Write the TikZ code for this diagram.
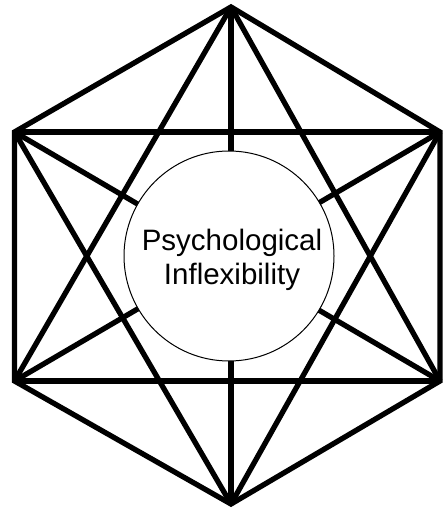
\documentclass[tikz,border=0pt]{standalone}
\usepackage{fontspec}
\setmainfont{Liberation Sans}
\begin{document}
\begin{tikzpicture}[x=1pt,y=-1pt,
  edge/.style={line width=5.3pt,line cap=butt,line join=miter},
  core/.style={circle,draw,line width=1pt,fill=white,minimum size=210pt,inner sep=0pt},
  coretext/.style={font=\fontsize{29.5}{34}\selectfont,align=center,inner sep=0pt}]
\useasboundingbox (0,0) rectangle (443,510);
\coordinate (T) at (231,7);
\coordinate (UL) at (14.5,132);
\coordinate (UR) at (440,132);
\coordinate (LL) at (14.5,381);
\coordinate (LR) at (440,381);
\coordinate (B) at (231,504);
\draw[edge] (T) -- (UR) -- (LR) -- (B) -- (LL) -- (UL) -- cycle;
\draw[edge] (T) -- (B);
\draw[edge] (UL) -- (LR);
\draw[edge] (UR) -- (LL);
\draw[edge] (T) -- (LL);
\draw[edge] (T) -- (LR);
\draw[edge] (B) -- (UL);
\draw[edge] (B) -- (UR);
\draw[edge] (UL) -- (UR);
\draw[edge] (LL) -- (LR);
\node[core] (c) at (229,256) {};
\node[coretext] (t) at (232,260) {Psychological\\Inflexibility};
\end{tikzpicture}
\end{document}
